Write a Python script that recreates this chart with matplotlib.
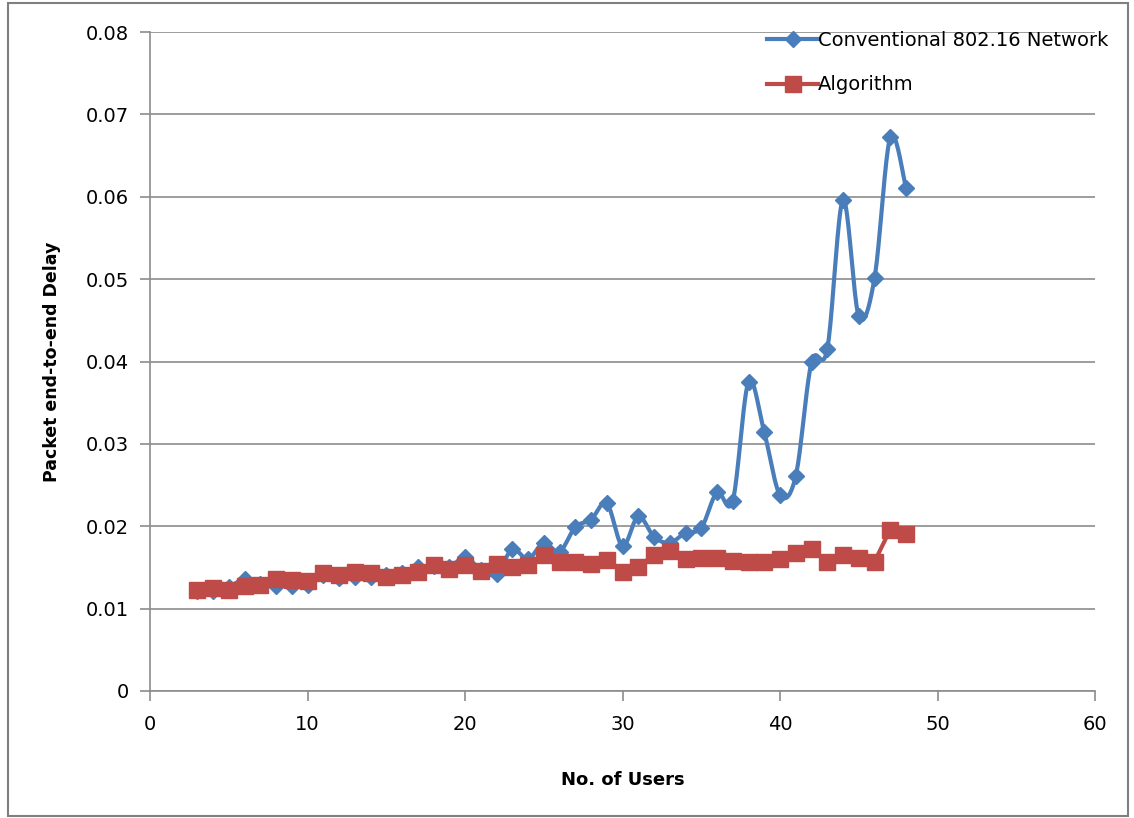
import numpy as np
import matplotlib
matplotlib.use("Agg")
import matplotlib.pyplot as plt
from matplotlib.patches import Rectangle

users = list(range(3, 49))
conventional = [0.0122, 0.0121, 0.0126, 0.0136, 0.0130, 0.0128, 0.0128, 0.0129, 0.0141, 0.0137,
                0.0138, 0.0138, 0.0141, 0.0143, 0.0150, 0.0152, 0.0150, 0.0163, 0.0147, 0.0142,
                0.0172, 0.0160, 0.0180, 0.0169, 0.0199, 0.0208, 0.0228, 0.0176, 0.0212, 0.0187,
                0.0180, 0.0192, 0.0198, 0.0241, 0.0231, 0.0375, 0.0314, 0.0238, 0.0261, 0.0399,
                0.0415, 0.0596, 0.0455, 0.0501, 0.0672, 0.0611]
algorithm = [0.0123, 0.0125, 0.0123, 0.0127, 0.0129, 0.0136, 0.0135, 0.0133, 0.0143, 0.0141,
             0.0145, 0.0143, 0.0138, 0.0141, 0.0145, 0.0153, 0.0148, 0.0153, 0.0146, 0.0154,
             0.0151, 0.0153, 0.0165, 0.0156, 0.0156, 0.0154, 0.0159, 0.0145, 0.0151, 0.0165,
             0.0170, 0.0160, 0.0162, 0.0161, 0.0158, 0.0156, 0.0156, 0.0160, 0.0168, 0.0172,
             0.0157, 0.0165, 0.0161, 0.0157, 0.0196, 0.0191]

BLUE = "#4A7EBB"
RED = "#BE4B48"
GRID = "#8C8C8C"


def smooth(x, y, n=20):
    # Excel-style smoothed line (Catmull-Rom through the points)
    x = np.asarray(x, float)
    y = np.asarray(y, float)
    px = np.concatenate([[x[0]], x, [x[-1]]])
    py = np.concatenate([[y[0]], y, [y[-1]]])
    xs, ys = [], []
    t = np.linspace(0, 1, n, endpoint=False)
    for i in range(1, len(px) - 2):
        for arr, out in ((px, xs), (py, ys)):
            p0, p1, p2, p3 = arr[i - 1], arr[i], arr[i + 1], arr[i + 2]
            c1 = p1 + (p2 - p0) / 6
            c2 = p2 - (p3 - p1) / 6
            out.extend((1 - t) ** 3 * p1 + 3 * (1 - t) ** 2 * t * c1 + 3 * (1 - t) * t ** 2 * c2 + t ** 3 * p2)
    xs.append(x[-1])
    ys.append(y[-1])
    return np.array(xs), np.array(ys)


fig = plt.figure(figsize=(11.34, 8.18), dpi=100)
ax = fig.add_axes([150 / 1134, 1 - 691 / 818, 945 / 1134, 659 / 818])

sx, sy = smooth(users, conventional)
ax.plot(sx, sy, color=BLUE, lw=3, solid_capstyle="round", zorder=3)
ax.plot(users, conventional, ls="none", marker="D", ms=8.2, color=BLUE, zorder=3)
ax.plot(users, algorithm, color=RED, lw=3, marker="s", ms=12, zorder=4)

# legend handles
hb, = ax.plot([], [], color=BLUE, lw=3, marker="D", ms=8.2, label="Conventional 802.16 Network")
hr, = ax.plot([], [], color=RED, lw=3, marker="s", ms=12, label="Algorithm")
leg = ax.legend(handles=[hb, hr], loc="upper left", bbox_to_anchor=(0.645, 1.014), frameon=False,
                fontsize=14, handlelength=2.6, handletextpad=0.0, labelspacing=1.33,
                borderaxespad=0.0)

ax.set_xlim(0, 60)
ax.set_ylim(0, 0.08)
ax.set_xticks(range(0, 61, 10))
ax.set_yticks(np.arange(0, 0.081, 0.01))
ax.set_yticklabels(["0", "0.01", "0.02", "0.03", "0.04", "0.05", "0.06", "0.07", "0.08"])
ax.yaxis.grid(True, color=GRID, lw=1.2)
ax.set_axisbelow(True)
for s in ["top", "right"]:
    ax.spines[s].set_visible(False)
for s in ["left", "bottom"]:
    ax.spines[s].set_color(GRID)
    ax.spines[s].set_linewidth(1.2)
ax.tick_params(axis="both", colors=GRID, length=7, width=1.2, labelsize=14, labelcolor="black", pad=8)
ax.tick_params(axis="x", pad=10)

ax.set_xlabel("No. of Users", fontsize=13, fontweight="bold", labelpad=27)
ax.set_ylabel("Packet end-to-end Delay", fontsize=12.5, fontweight="bold", labelpad=18)

fig.patches.append(Rectangle((8 / 1134, 2 / 818), 1120 / 1134, 813 / 818, transform=fig.transFigure,
                             fill=False, edgecolor="#7F7F7F", lw=1.5))

fig.savefig("out.png", dpi=100)
